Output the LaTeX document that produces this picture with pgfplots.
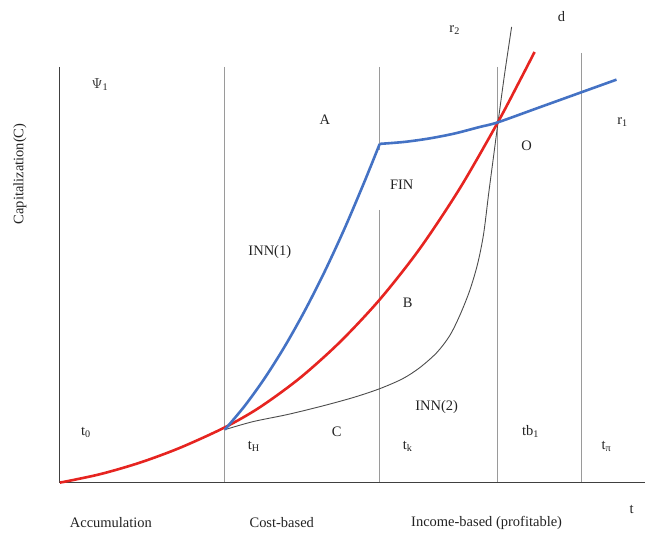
\documentclass[border=0pt]{standalone}
\usepackage{pgfplots}
\pgfplotsset{compat=1.18}
\usepackage{fontspec}
\setmainfont{Liberation Serif}
\definecolor{cred}{HTML}{E62420}
\definecolor{cblue}{HTML}{4472C4}
\definecolor{cgray}{HTML}{9A9A9A}
\definecolor{ctxt}{HTML}{222222}
\begin{document}
\fontsize{14.5}{17}\selectfont
\begin{tikzpicture}[every node/.append style={text=ctxt}]
\begin{axis}[
  hide axis, clip=false, scale only axis,
  width=645pt, height=536pt,
  xmin=0, xmax=645, ymin=0, ymax=536,
]
\addplot[draw=none] coordinates {(0,0) (645,536)};
% vertical separators
\addplot[cgray, line width=0.8pt] coordinates {(225,469) (225,53)};
\addplot[cgray, line width=0.8pt] coordinates {(380,469) (380,386)};
\addplot[cgray, line width=0.8pt] coordinates {(380,326) (380,53)};
\addplot[cgray, line width=0.8pt] coordinates {(498,469) (498,53)};
\addplot[cgray, line width=0.8pt] coordinates {(582,483) (582,53)};
% axes
\addplot[black!75, line width=1pt] coordinates {(60,469) (60,53)};
\addplot[black!75, line width=1pt] coordinates {(60,53) (645,53)};
% INN(2) curve (d)
\addplot[black!70, line width=0.9pt, smooth] coordinates {
 (225,106) (253,114) (287,121) (320,129) (353,138) (380,147) (403,157)
 (420,168) (437,183) (450,200) (460,220) (470,245) (478,272) (484,302)
 (489,342) (494,380) (499,418) (505,462) (512,509)};
% red curve
\addplot[cred, line width=2.6pt, smooth] coordinates {
 (60,53) (100,61.4) (140,73) (180,87.8) (225,108.3) (260,128.4) (300,157.6)
 (340,193.5) (380,236.2) (420,287) (460,347.2) (498,413.2) (520,454.9) (535,484)};
% blue curve
\addplot[cblue, line width=2.6pt, smooth] coordinates {
 (225,106) (245,129.9) (265,157.7) (285,189.4) (305,225) (325,264.4) (345,307.7) (365,354.8) (380,392)};
\addplot[cblue, line width=2.6pt, smooth] coordinates {
 (380,392) (405,394) (430,397.5) (455,402.4) (480,408.9) (498,413.5) (540,428.6) (580,443) (617,456.3)};
% labels
\node at (axis cs:100,451) {$\Psi$\textsubscript{1}};
\node at (axis cs:325,416) {A};
\node at (axis cs:623,414) {r\textsubscript{1}};
\node at (axis cs:562,519) {d};
\node at (axis cs:455,506) {r\textsubscript{2}};
\node at (axis cs:402,351) {FIN};
\node at (axis cs:270,284) {INN(1)};
\node at (axis cs:408,233) {B};
\node at (axis cs:437,129) {INN(2)};
\node at (axis cs:527,390) {O};
\node at (axis cs:86,103) {t\textsubscript{0}};
\node at (axis cs:254,89) {t\textsubscript{H}};
\node at (axis cs:337,104) {C};
\node at (axis cs:408,89) {t\textsubscript{k}};
\node at (axis cs:531,104) {tb\textsubscript{1}};
\node at (axis cs:607,89) {t\textsubscript{π}};
\node at (axis cs:632,26) {t};
\node at (axis cs:111,13) {Accumulation};
\node at (axis cs:282,13) {Cost-based};
\node at (axis cs:487,13) {Income-based (profitable)};
\node[rotate=90] at (axis cs:20,362) {Capitalization(C)};
\end{axis}
\end{tikzpicture}
\end{document}
